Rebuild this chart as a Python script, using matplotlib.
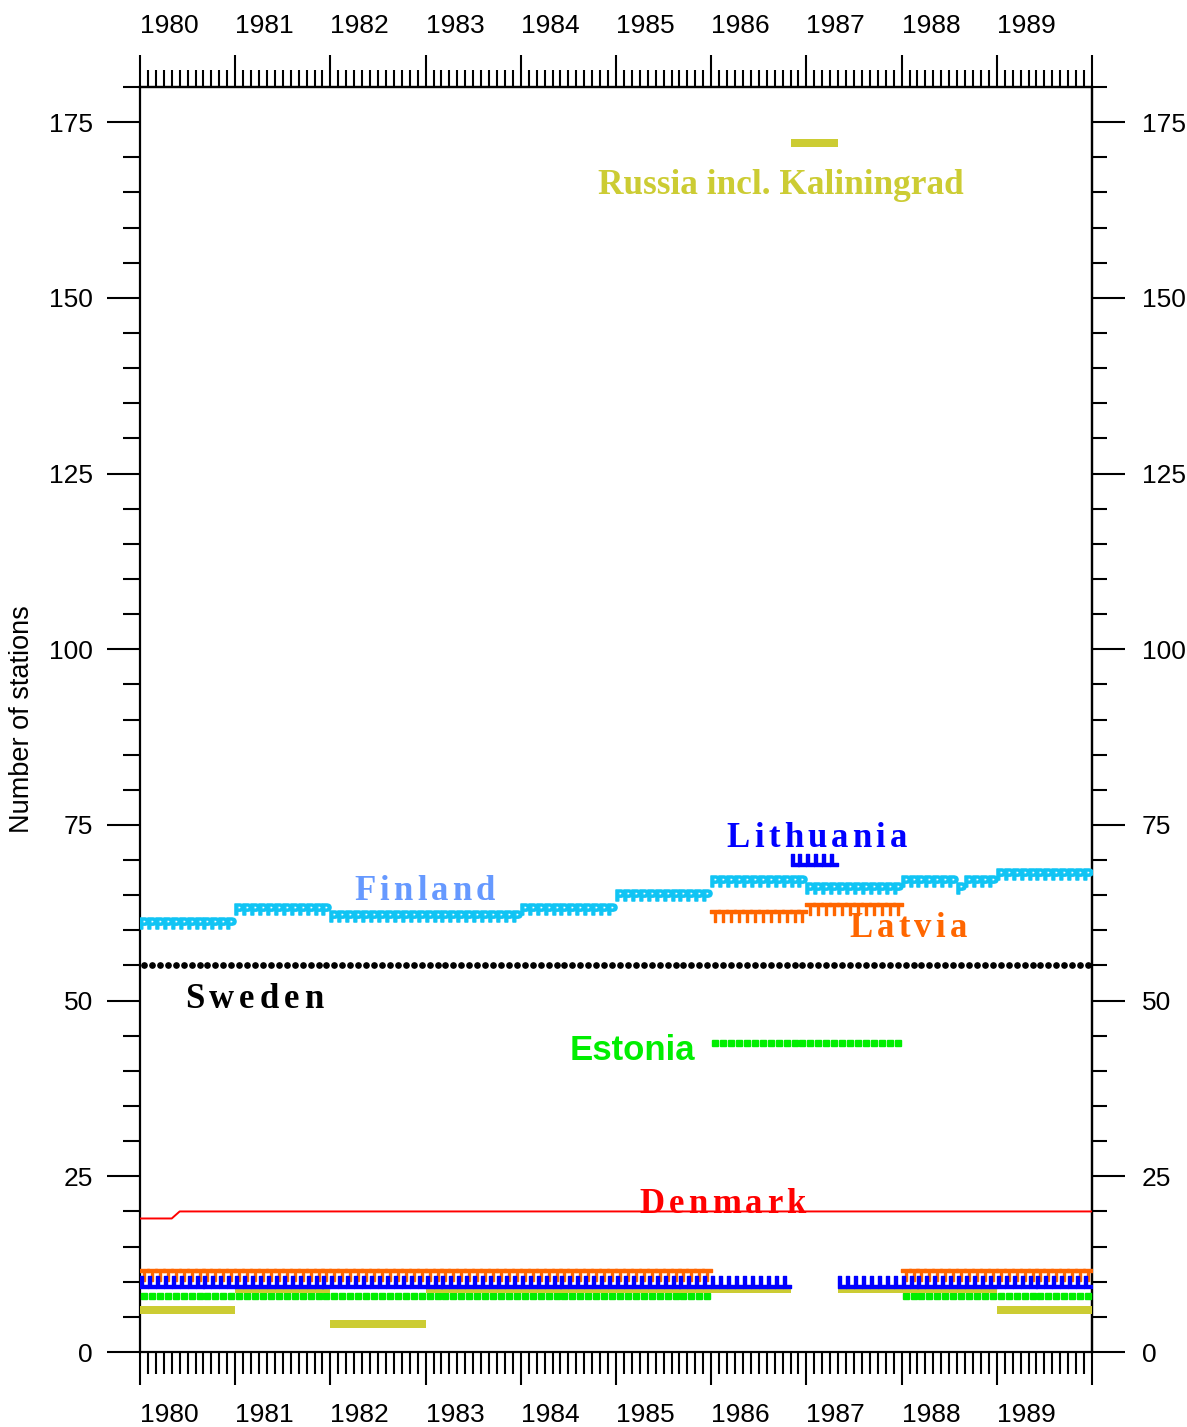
import numpy as np
import matplotlib

matplotlib.use("Agg")
import matplotlib.pyplot as plt
from matplotlib.font_manager import FontProperties, findfont
from matplotlib.ft2font import FT2Font
from matplotlib.transforms import offset_copy

plt.rcParams["font.family"] = ["Liberation Sans", "DejaVu Sans"]

# monthly station counts, Jan 1980 .. Dec 1989
years = list(range(1980, 1990))
sweden = [55] * 120
finland = ([61] * 12 + [63] * 12 + [62] * 24 + [63] * 12 + [65] * 12
           + [67] * 12 + [66] * 12 + [67] * 7 + [66] + [67] * 4 + [68] * 12)
lithuania = [10] * 82 + [70] * 6 + [10] * 32
latvia = [11] * 72 + [62] * 12 + [63] * 12 + [11] * 24
estonia = [8] * 72 + [44] * 24 + [8] * 24
russia = [6] * 12 + [9] * 12 + [4] * 12 + [9] * 46 + [172] * 6 + [9] * 20 + [6] * 12
denmark = [19] * 5 + [20] * 115

months = np.arange(120)
x_mid = 1980 + (months + 0.5) / 12
x_edge = 1980 + np.arange(121) / 12

fig = plt.figure(figsize=(11.87, 14.27), dpi=100)
ax = fig.add_axes([140 / 1187, 75 / 1427, 952 / 1187, 1265 / 1427])

ax.plot(x_edge, denmark + [denmark[-1]], color="#FF0000", lw=1.4, zorder=3)
ax.plot(x_mid, sweden, ls="none", marker="o", ms=3.8, color="black", zorder=4)
ax.plot(x_mid, estonia, ls="none", marker="s", ms=3.7, color="#00EE00", zorder=4)
ax.plot(x_mid, russia, ls="none", marker="s", ms=5.5, mew=0, color="#CCCC33", zorder=4.5)
ax.plot(x_mid, lithuania, ls="none", marker=r"$\mathbf{L}$", ms=8, color="#0000FF", zorder=5)
ax.plot(x_mid, latvia, ls="none", marker=r"$\mathbf{T}$", ms=8, color="#FF6600", zorder=4)
ax.plot(x_mid, finland, ls="none", marker=r"$\mathbf{P}$", ms=8, color="#10C4F4", zorder=4)

ax.set_xlim(1980, 1990)
ax.set_ylim(0, 180)

ax.set_xticks(range(1980, 1991))
ax.set_xticklabels([str(y) for y in years] + [""])
ax.set_xticks(x_edge, minor=True)
ax.set_yticks(range(0, 176, 25))
ax.set_yticks(range(0, 181, 5), minor=True)

for lbl in ax.get_xticklabels():
    lbl.set_horizontalalignment("left")

ax.tick_params(which="both", direction="out", width=1.5, labelsize=19, colors="black")
ax.tick_params(axis="x", which="major", length=24, pad=13)
ax.tick_params(axis="x", which="minor", length=16)
ax.tick_params(axis="y", which="major", length=24, pad=10)
ax.tick_params(axis="y", which="minor", length=12)
for sp in ax.spines.values():
    sp.set_linewidth(1.6)

top = ax.secondary_xaxis("top")
top.set_xticks(range(1980, 1991))
top.set_xticklabels([str(y) for y in years] + [""])
top.set_xticks(x_edge, minor=True)
for lbl in top.get_xticklabels():
    lbl.set_horizontalalignment("left")
top.tick_params(which="both", direction="out", width=1.5, labelsize=19)
top.tick_params(which="major", length=23, pad=12)
top.tick_params(which="minor", length=12)
top.spines["top"].set_linewidth(1.6)

right = ax.secondary_yaxis("right")
right.set_yticks(range(0, 176, 25))
right.set_yticks(range(0, 181, 5), minor=True)
right.tick_params(which="both", direction="out", width=1.5, labelsize=19)
right.tick_params(which="major", length=24, pad=12)
right.tick_params(which="minor", length=11)
right.spines["right"].set_linewidth(1.6)

ax.set_ylabel("Number of stations", fontsize=19.5)
ax.yaxis.set_label_coords(-0.110, 0.5)


def spaced_label(x, y, text, color, size=25, gap=3.0):
    # bold serif label with extra letter spacing, centred on x
    fp = FontProperties(family="Liberation Serif", weight="bold", size=size)
    font = FT2Font(findfont(fp))
    font.set_size(size, 72)
    adv = [font.load_char(ord(c)).linearHoriAdvance / 65536 for c in text]
    off = -(sum(adv) + gap * (len(text) - 1)) / 2
    for c, a in zip(text, adv):
        tr = offset_copy(ax.transData, fig=fig, x=off, y=0, units="points")
        ax.text(x, y, c, transform=tr, fontproperties=fp, color=color,
                ha="left", va="baseline", zorder=6)
        off += a + gap


ax.text(1986.73, 164.8, "Russia incl. Kaliningrad", color="#CCCC33", fontsize=25.4,
        fontweight="bold", family=["Liberation Serif", "DejaVu Serif"],
        ha="center", va="baseline")
spaced_label(1987.11, 71.9, "Lithuania", "#0000FF")
spaced_label(1982.99, 64.3, "Finland", "#6699FF")
spaced_label(1988.07, 59.1, "Latvia", "#FF6600")
spaced_label(1981.20, 48.9, "Sweden", "black", gap=3.6)
spaced_label(1986.12, 19.8, "Denmark", "#FF0000")
ax.text(1985.17, 41.5, "Estonia", color="#00EE00", fontsize=25, fontweight="bold",
        ha="center", va="baseline")

fig.savefig("out.png", dpi=100)
